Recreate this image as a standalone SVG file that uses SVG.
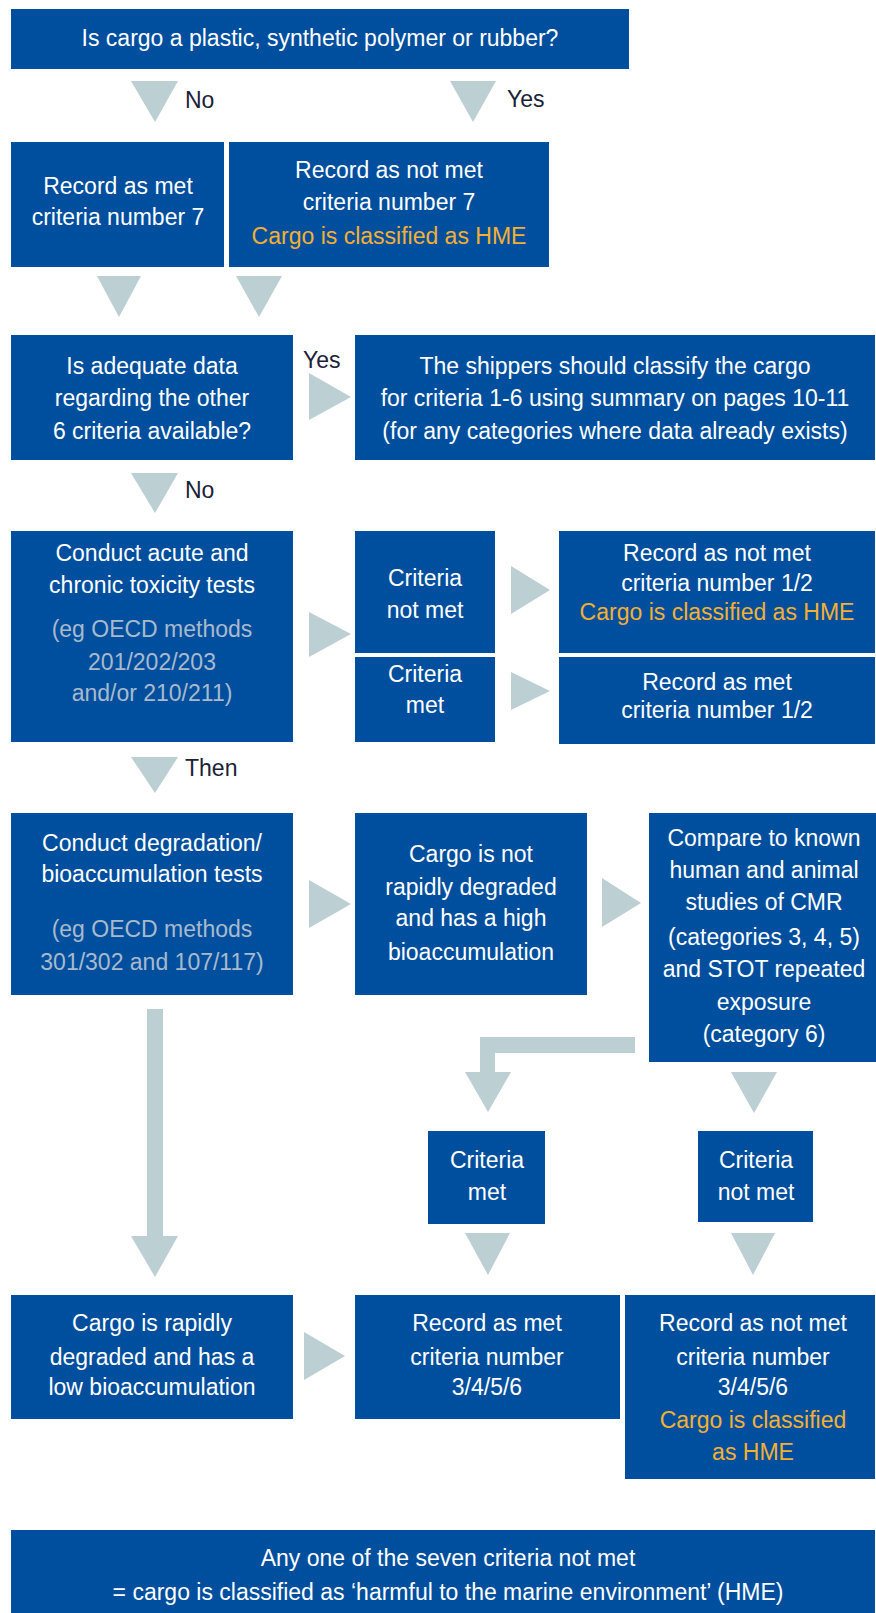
<svg xmlns="http://www.w3.org/2000/svg" width="876" height="1613" viewBox="0 0 876 1613">
<style>
.box{fill:#004F9E}
.arr{fill:#BCCFD3}
.t{font-family:"Liberation Sans",Arial,Helvetica,sans-serif;font-size:23px;fill:#FFFFFF;text-anchor:middle}
.o{fill:#F3B033}
.g{fill:#A7BACD}
.lbl{font-family:"Liberation Sans",Arial,Helvetica,sans-serif;font-size:23px;fill:#1B2238;text-anchor:start}
</style>
<rect width="876" height="1613" fill="#FFFFFF"/>
<g id="connectors">
<polygon class="arr" points="131,81 178,81 155,122"/>
<polygon class="arr" points="450,81 496,81 473,122"/>
<polygon class="arr" points="97,276 141,276 119,317"/>
<polygon class="arr" points="236,276 282,276 259,317"/>
<polygon class="arr" points="309,373 309,420 351,397"/>
<polygon class="arr" points="131,473 178,473 155,513"/>
<polygon class="arr" points="309,612 309,657 351,634"/>
<polygon class="arr" points="511,566 511,614 550,590"/>
<polygon class="arr" points="511,672 511,710 550,691"/>
<polygon class="arr" points="131,757 178,757 155,793"/>
<polygon class="arr" points="309,880 309,928 351,904"/>
<polygon class="arr" points="602,878 602,927 641,903"/>
<path class="arr" d="M147,1009 H163 V1236 H178 L155,1277 L131,1236 H147 Z"/>
<path class="arr" d="M635,1037 H480 V1072 H465 L488,1112 L511,1072 H495 V1053 H635 Z"/>
<polygon class="arr" points="731,1072 777,1072 754,1113"/>
<polygon class="arr" points="465,1233 510,1233 488,1275"/>
<polygon class="arr" points="731,1233 775,1233 753,1275"/>
<polygon class="arr" points="304,1332 304,1380 345,1356"/>
<text class="lbl" x="185" y="108">No</text>
<text class="lbl" x="507" y="107">Yes</text>
<text class="lbl" x="303" y="368">Yes</text>
<text class="lbl" x="185" y="498">No</text>
<text class="lbl" x="185" y="776">Then</text>
</g>
<g id="q1">
<rect class="box" x="11" y="9" width="618" height="60"/>
<text class="t" x="320" y="46">Is cargo a plastic, synthetic polymer or rubber?</text>
</g>
<g id="rec7met">
<rect class="box" x="11" y="142" width="213" height="125"/>
<text class="t" x="118" y="194">Record as met</text>
<text class="t" x="118" y="225">criteria number 7</text>
</g>
<g id="rec7notmet">
<rect class="box" x="229" y="142" width="320" height="125"/>
<text class="t" x="389" y="178">Record as not met</text>
<text class="t" x="389" y="210">criteria number 7</text>
<text class="t o" x="389" y="244">Cargo is classified as HME</text>
</g>
<g id="q2">
<rect class="box" x="11" y="335" width="282" height="125"/>
<text class="t" x="152" y="374">Is adequate data</text>
<text class="t" x="152" y="406">regarding the other</text>
<text class="t" x="152" y="439">6 criteria available?</text>
</g>
<g id="shippers">
<rect class="box" x="355" y="335" width="520" height="125"/>
<text class="t" x="615" y="374">The shippers should classify the cargo</text>
<text class="t" x="615" y="406">for criteria 1-6 using summary on pages 10-11</text>
<text class="t" x="615" y="439">(for any categories where data already exists)</text>
</g>
<g id="acute">
<rect class="box" x="11" y="531" width="282" height="211"/>
<text class="t" x="152" y="561">Conduct acute and</text>
<text class="t" x="152" y="593">chronic toxicity tests</text>
<text class="t g" x="152" y="637">(eg OECD methods</text>
<text class="t g" x="152" y="670">201/202/203</text>
<text class="t g" x="152" y="701">and/or 210/211)</text>
</g>
<g id="crit12notmet">
<rect class="box" x="355" y="531" width="140" height="122"/>
<text class="t" x="425" y="586">Criteria</text>
<text class="t" x="425" y="618">not met</text>
</g>
<g id="crit12met">
<rect class="box" x="355" y="657" width="140" height="85"/>
<text class="t" x="425" y="682">Criteria</text>
<text class="t" x="425" y="713">met</text>
</g>
<g id="rec12notmet">
<rect class="box" x="559" y="531" width="316" height="122"/>
<text class="t" x="717" y="561">Record as not met</text>
<text class="t" x="717" y="591">criteria number 1/2</text>
<text class="t o" x="717" y="620">Cargo is classified as HME</text>
</g>
<g id="rec12met">
<rect class="box" x="559" y="657" width="316" height="87"/>
<text class="t" x="717" y="690">Record as met</text>
<text class="t" x="717" y="718">criteria number 1/2</text>
</g>
<g id="degradation">
<rect class="box" x="11" y="813" width="282" height="182"/>
<text class="t" x="152" y="851">Conduct degradation/</text>
<text class="t" x="152" y="882">bioaccumulation tests</text>
<text class="t g" x="152" y="937">(eg OECD methods</text>
<text class="t g" x="152" y="970">301/302 and 107/117)</text>
</g>
<g id="notrapid">
<rect class="box" x="355" y="813" width="232" height="182"/>
<text class="t" x="471" y="862">Cargo is not</text>
<text class="t" x="471" y="895">rapidly degraded</text>
<text class="t" x="471" y="926">and has a high</text>
<text class="t" x="471" y="960">bioaccumulation</text>
</g>
<g id="compare">
<rect class="box" x="649" y="813" width="227" height="249"/>
<text class="t" x="764" y="846">Compare to known</text>
<text class="t" x="764" y="878">human and animal</text>
<text class="t" x="764" y="910">studies of CMR</text>
<text class="t" x="764" y="945">(categories 3, 4, 5)</text>
<text class="t" x="764" y="977">and STOT repeated</text>
<text class="t" x="764" y="1010">exposure</text>
<text class="t" x="764" y="1042">(category 6)</text>
</g>
<g id="crit3456met">
<rect class="box" x="428" y="1131" width="117" height="93"/>
<text class="t" x="487" y="1168">Criteria</text>
<text class="t" x="487" y="1200">met</text>
</g>
<g id="crit3456notmet">
<rect class="box" x="698" y="1131" width="115" height="91"/>
<text class="t" x="756" y="1168">Criteria</text>
<text class="t" x="756" y="1200">not met</text>
</g>
<g id="rapid">
<rect class="box" x="11" y="1295" width="282" height="124"/>
<text class="t" x="152" y="1331">Cargo is rapidly</text>
<text class="t" x="152" y="1365">degraded and has a</text>
<text class="t" x="152" y="1395">low bioaccumulation</text>
</g>
<g id="rec3456met">
<rect class="box" x="355" y="1295" width="265" height="124"/>
<text class="t" x="487" y="1331">Record as met</text>
<text class="t" x="487" y="1365">criteria number</text>
<text class="t" x="487" y="1395">3/4/5/6</text>
</g>
<g id="rec3456notmet">
<rect class="box" x="625" y="1295" width="250" height="184"/>
<text class="t" x="753" y="1331">Record as not met</text>
<text class="t" x="753" y="1365">criteria number</text>
<text class="t" x="753" y="1395">3/4/5/6</text>
<text class="t o" x="753" y="1428">Cargo is classified</text>
<text class="t o" x="753" y="1460">as HME</text>
</g>
<g id="summary">
<rect class="box" x="11" y="1530" width="864" height="83"/>
<text class="t" x="448" y="1566">Any one of the seven criteria not met</text>
<text class="t" x="448" y="1600">= cargo is classified as ‘harmful to the marine environment’ (HME)</text>
</g>
</svg>
